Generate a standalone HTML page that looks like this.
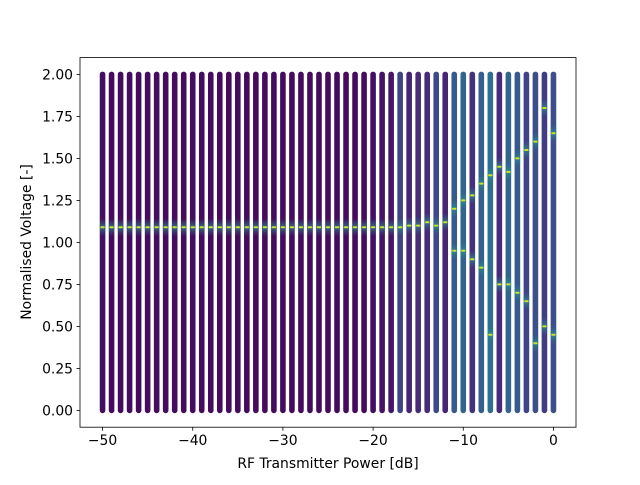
<!DOCTYPE html>
<html><head><meta charset="utf-8"><style>
body{margin:0;background:#fff}
svg text{font-family:"DejaVu Sans","Liberation Sans",sans-serif;font-size:13.9px;fill:#000}
</style></head><body>
<svg id="chart" width="640" height="480" viewBox="0 0 640 480" xmlns="http://www.w3.org/2000/svg">
<defs><linearGradient id="gl" x1="0" y1="0" x2="0" y2="1">
<stop offset="0" stop-color="#26828e" stop-opacity="0"/>
<stop offset="0.5" stop-color="#2a9c89" stop-opacity="0.8"/>
<stop offset="1" stop-color="#26828e" stop-opacity="0"/></linearGradient></defs>
<rect width="640" height="480" fill="#fff"/>
<g id="marks"></g>
<g id="axes"></g>
<text x="328" y="468" text-anchor="middle">RF Transmitter Power [dB]</text>
<text transform="translate(31,242) rotate(-90)" text-anchor="middle">Normalised Voltage [-]</text>
</svg>
<script>
const powers = [-50,-49,-48,-47,-46,-45,-44,-43,-42,-41,-40,-39,-38,-37,-36,-35,-34,-33,-32,-31,-30,-29,-28,-27,-26,-25,-24,-23,-22,-21,-20,-19,-18,-17,-16,-15,-14,-13,-12,-11,-10,-9,-8,-7,-6,-5,-4,-3,-2,-1,0];
const baseLevel = [0.04,0.03,0.03,0.03,0.03,0.03,0.03,0.03,0.03,0.03,0.03,0.03,0.03,0.03,0.03,0.03,0.03,0.03,0.03,0.03,0.03,0.03,0.03,0.03,0.03,0.03,0.03,0.03,0.03,0.03,0.04,0.05,0.06,0.2,0.1,0.12,0.12,0.22,0.1,0.28,0.32,0.14,0.3,0.36,0.12,0.32,0.28,0.2,0.24,0.18,0.24];
const peakA = [1.09,1.09,1.09,1.09,1.09,1.09,1.09,1.09,1.09,1.09,1.09,1.09,1.09,1.09,1.09,1.09,1.09,1.09,1.09,1.09,1.09,1.09,1.09,1.09,1.09,1.09,1.09,1.09,1.09,1.09,1.09,1.09,1.09,1.09,1.1,1.1,1.12,1.1,1.12,1.2,1.25,1.28,1.35,1.4,1.45,1.42,1.5,1.55,1.6,1.8,1.65];
const peakB = [null,null,null,null,null,null,null,null,null,null,null,null,null,null,null,null,null,null,null,null,null,null,null,null,null,null,null,null,null,null,null,null,null,null,null,null,null,null,null,0.95,0.95,0.9,0.85,0.45,0.75,0.75,0.7,0.65,0.4,0.5,0.45];
const xTicks = [-50,-40,-30,-20,-10,0];
const yTicks = [0,0.25,0.5,0.75,1,1.25,1.5,1.75,2];
const yTickLabels = ["0.00","0.25","0.50","0.75","1.00","1.25","1.50","1.75","2.00"];

const L=80,R=576,T=57.6,B=427.2, X0=-52.5,X1=2.5,Y0=-0.1,Y1=2.1;
const xs=v=>L+(v-X0)/(X1-X0)*(R-L);
const ys=v=>B-(v-Y0)/(Y1-Y0)*(B-T);
const stops=[[68,1,84],[72,40,120],[62,74,137],[49,104,142],[38,130,142],[31,158,137],[53,183,121],[110,206,88],[181,222,43],[253,231,37]];
function vir(t){t=Math.max(0,Math.min(1,t))*(stops.length-1);const i=Math.min(Math.floor(t),stops.length-2),f=t-i;
 const c=stops[i].map((a,k)=>Math.round(a+(stops[i+1][k]-a)*f));return `rgb(${c})`;}
const NS="http://www.w3.org/2000/svg";
const mk=(tag,attrs,parent)=>{const e=document.createElementNS(NS,tag);for(const k in attrs)e.setAttribute(k,attrs[k]);parent.appendChild(e);return e;};
const marks=document.getElementById('marks');
powers.forEach((p,i)=>{
  const g=mk('g',{},marks);
  
  
  const cx=xs(p),w=5.6;
  const col=mk('rect',{x:cx-w/2,y:ys(2)-2.8,width:w,height:ys(0)-ys(2)+5.6,rx:2.8,fill:vir(baseLevel[i])},g);
  
  
  [peakA[i],peakB[i]].forEach(pk=>{
    if(pk===null)return;
    const glow=mk('rect',{x:cx-w/2,y:ys(pk)-9,width:w,height:18,fill:'url(#gl)',opacity:0.8},g);
    
    
    const c=mk('rect',{x:cx-w/2+0.6,y:ys(pk)-1,width:w-1.2,height:2,rx:1,fill:vir(0.92)},g);
    
    
  });
});
const ax=document.getElementById('axes');
const fr=mk('rect',{x:L,y:T,width:R-L,height:B-T,fill:'none',stroke:'#000','stroke-width':0.8},ax);


xTicks.forEach(v=>{
  mk('line',{x1:xs(v),x2:xs(v),y1:B,y2:B+3.5,stroke:'#000','stroke-width':0.8},ax);
  const t=mk('text',{x:xs(v),y:B+18,'text-anchor':'middle'},ax);
  t.textContent=(v<0?'\u2212'+(-v):String(v));
  
  
});
yTicks.forEach((v,i)=>{
  mk('line',{x1:L-3.5,x2:L,y1:ys(v),y2:ys(v),stroke:'#000','stroke-width':0.8},ax);
  const t=mk('text',{x:L-7,y:ys(v)+5,'text-anchor':'end'},ax);
  t.textContent=yTickLabels[i];
  
  
});
</script>
</body></html>
